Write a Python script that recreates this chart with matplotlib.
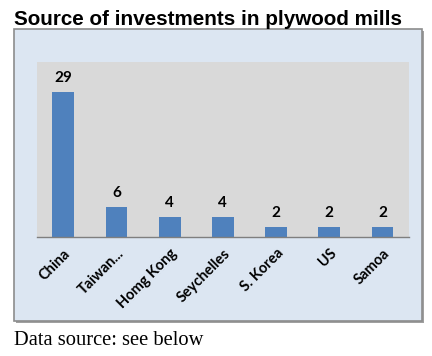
import matplotlib
matplotlib.use('Agg')
import matplotlib.pyplot as plt
from matplotlib.patches import Rectangle

countries = ['China', 'Taiwan...', 'Homg Kong', 'Seychelles', 'S. Korea', 'US', 'Samoa']
mills = [29, 6, 4, 4, 2, 2, 2]

fig = plt.figure(figsize=(4.32, 3.56), dpi=100)
fig.patch.set_facecolor('white')

# outer chart box with a little shadow
fig.patches.append(Rectangle((16/432, 33/356), 408/432, 292/356, transform=fig.transFigure,
                             facecolor='#a0a0a0', edgecolor='none', zorder=-2))
fig.patches.append(Rectangle((14/432, 35/356), 408/432, 292/356, transform=fig.transFigure,
                             facecolor='#dce6f2', edgecolor='#8c8c8c', linewidth=1.2, zorder=-1))

ax = fig.add_axes([36.7/432, 119.3/356, 372.3/432, 175/356])
ax.set_facecolor('#d9d9d9')
x = range(len(countries))
bars = ax.bar(x, mills, width=0.41, color='#4f81bd', zorder=2)
for b, v in zip(bars, mills):
    ax.annotate(str(v), (b.get_x() + b.get_width()/2, v), xytext=(0, 5),
                textcoords='offset points', ha='center', va='bottom',
                fontsize=11, fontweight='bold', family='Lato')

ax.set_xlim(-0.5, len(countries) - 0.5)
ax.set_ylim(0, 35)
ax.set_yticks([])
ax.set_xticks(list(x))
ax.set_xticklabels(countries, rotation=45, ha='right', rotation_mode='anchor',
                   fontsize=10.5, fontweight='bold', family='Lato')
ax.tick_params(axis='x', length=0, pad=7)
for s in ['top', 'right', 'left']:
    ax.spines[s].set_visible(False)
ax.spines['bottom'].set_color('#7f7f7f')
ax.spines['bottom'].set_linewidth(1)

fig.text(14/432, 1 - 25/356, 'Source of investments in plywood mills', fontsize=14.9,
         fontweight='bold', family='Liberation Sans', va='baseline')
fig.text(14/432, 1 - 345/356, 'Data source: see below', fontsize=14.8,
         family='Liberation Serif', va='baseline')

fig.savefig('out.png', dpi=100)
